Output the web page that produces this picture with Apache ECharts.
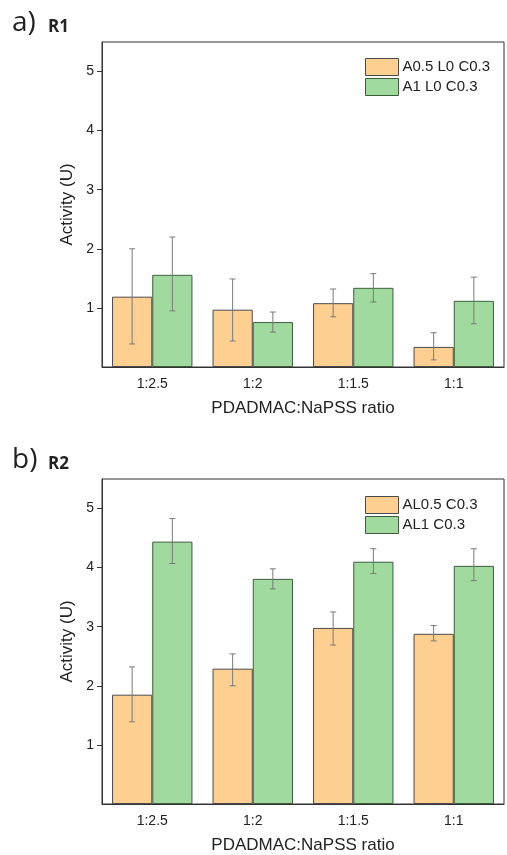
<!DOCTYPE html>
<html>
<head>
<meta charset="utf-8">
<script src="https://cdn.jsdelivr.net/npm/echarts@6/dist/echarts.min.js"></script>
<style>
  html, body { margin: 0; padding: 0; background: #fff; }
  #chart { width: 507px; height: 855px; }
</style>
</head>
<body>
<div id="chart"></div>
<script>
// categories and values
const ratios = ["1:2.5", "1:2", "1:1.5", "1:1"];
const yTicks = [1, 2, 3, 4, 5];

// panel a) R1
const r1Names = ["A0.5 L0 C0.3", "A1 L0 C0.3"];
const r1Orange = [1.19, 0.97, 1.08, 0.34];
const r1OrangeLow = [0.39, 0.44, 0.85, 0.12];
const r1OrangeHigh = [2.0, 1.49, 1.32, 0.58];
const r1Green = [1.56, 0.76, 1.34, 1.12];
const r1GreenLow = [0.95, 0.59, 1.10, 0.73];
const r1GreenHigh = [2.2, 0.93, 1.58, 1.52];

// panel b) R2
const r2Names = ["AL0.5 C0.3", "AL1 C0.3"];
const r2Orange = [1.85, 2.29, 2.98, 2.88];
const r2OrangeLow = [1.39, 2.0, 2.69, 2.76];
const r2OrangeHigh = [2.32, 2.54, 3.25, 3.02];
const r2Green = [4.44, 3.81, 4.10, 4.03];
const r2GreenLow = [4.07, 3.64, 3.90, 3.78];
const r2GreenHigh = [4.83, 3.98, 4.32, 4.32];

const orange = "#FDD092";
const green = "#A0DA9E";
const font = "Liberation Sans, Arial, sans-serif";

const chart = echarts.init(document.getElementById("chart"));

// error bars: shift = offset of the bar centre inside the band (band units)
function errSeries(name, gridIdx, low, high, shift) {
  return {
    type: "custom",
    name: name + "_err",
    xAxisIndex: gridIdx,
    yAxisIndex: gridIdx,
    z: 5,
    silent: true,
    data: ratios.map((c, i) => [i, low[i], high[i]]),
    renderItem: function (params, api) {
      const lo = api.coord([api.value(0), api.value(1)]);
      const hi = api.coord([api.value(0), api.value(2)]);
      const band = api.size([1, 0])[0];
      const x = lo[0] + shift * band;
      const cap = 3;
      const st = { stroke: "#7a7a7a", lineWidth: 1 };
      return {
        type: "group",
        children: [
          { type: "line", shape: { x1: x, y1: lo[1], x2: x, y2: hi[1] }, style: st },
          { type: "line", shape: { x1: x - cap, y1: lo[1], x2: x + cap, y2: lo[1] }, style: st },
          { type: "line", shape: { x1: x - cap, y1: hi[1], x2: x + cap, y2: hi[1] }, style: st }
        ]
      };
    }
  };
}

function xAxis(gridIdx) {
  return {
    type: "category",
    gridIndex: gridIdx,
    data: ratios,
    name: "PDADMAC:NaPSS ratio",
    nameLocation: "middle",
    nameGap: 33,
    nameTextStyle: { fontFamily: font, fontSize: 17, color: "#222" },
    axisLine: { lineStyle: { color: "#333", width: 1 } },
    axisTick: { alignWithLabel: true, length: 5, lineStyle: { color: "#333" } },
    axisLabel: { fontFamily: font, fontSize: 14, color: "#222", margin: 10 }
  };
}

function yAxis(gridIdx) {
  return {
    type: "value",
    gridIndex: gridIdx,
    min: 0,
    max: 5.5,
    interval: 1,
    name: "Activity (U)",
    nameLocation: "middle",
    nameGap: 21,
    nameTextStyle: { fontFamily: font, fontSize: 17, color: "#222" },
    axisLine: { show: true, lineStyle: { color: "#333", width: 1 } },
    axisTick: { show: true, length: 5, customValues: yTicks, lineStyle: { color: "#333" } },
    splitLine: { show: false },
    axisLabel: {
      fontFamily: font, fontSize: 14, color: "#222", margin: 8,
      customValues: yTicks
    }
  };
}

function barSeries(name, gridIdx, data, color, border) {
  return {
    type: "bar",
    name: name,
    xAxisIndex: gridIdx,
    yAxisIndex: gridIdx,
    data: data,
    barGap: "0%",
    barCategoryGap: "20%",
    itemStyle: { color: color, borderColor: border, borderWidth: 1 }
  };
}

function legend(names, top) {
  return {
    orient: "vertical",
    left: 365,
    top: top,
    padding: 0,
    data: names,
    itemWidth: 33,
    itemHeight: 17,
    itemGap: 2,
    icon: "rect",
    selectedMode: false,
    itemStyle: { borderWidth: 1 },
    textStyle: { fontFamily: font, fontSize: 15, color: "#222", padding: [0, 0, 0, -1] }
  };
}

const option = {
  animation: false,
  backgroundColor: "#fff",
  title: [
    { text: "a)", left: 7, top: 4, textStyle: { fontFamily: "Open Sans, sans-serif", fontSize: 28, fontWeight: "normal", color: "#222" } },
    { text: "R1", left: 43, top: 14, textStyle: { fontFamily: "Open Sans, sans-serif", fontSize: 17, fontWeight: "bold", color: "#222" } },
    { text: "b)", left: 7, top: 441, textStyle: { fontFamily: "Open Sans, sans-serif", fontSize: 28, fontWeight: "normal", color: "#222" } },
    { text: "R2", left: 43, top: 451, textStyle: { fontFamily: "Open Sans, sans-serif", fontSize: 17, fontWeight: "bold", color: "#222" } }
  ],
  legend: [legend(r1Names, 58), legend(r2Names, 496)],
  grid: [
    { left: 102, top: 42, width: 402, height: 325, show: true, borderColor: "#333", borderWidth: 1, outerBoundsMode: "none" },
    { left: 102, top: 479, width: 402, height: 325, show: true, borderColor: "#333", borderWidth: 1, outerBoundsMode: "none" }
  ],
  xAxis: [xAxis(0), xAxis(1)],
  yAxis: [yAxis(0), yAxis(1)],
  series: [
    barSeries(r1Names[0], 0, r1Orange, orange, "#4a4a4a"),
    barSeries(r1Names[1], 0, r1Green, green, "#3c5c3c"),
    errSeries(r1Names[0], 0, r1OrangeLow, r1OrangeHigh, -0.2),
    errSeries(r1Names[1], 0, r1GreenLow, r1GreenHigh, 0.2),
    barSeries(r2Names[0], 1, r2Orange, orange, "#4a4a4a"),
    barSeries(r2Names[1], 1, r2Green, green, "#3c5c3c"),
    errSeries(r2Names[0], 1, r2OrangeLow, r2OrangeHigh, -0.2),
    errSeries(r2Names[1], 1, r2GreenLow, r2GreenHigh, 0.2)
  ]
};

chart.setOption(option);
</script>
</body>
</html>
